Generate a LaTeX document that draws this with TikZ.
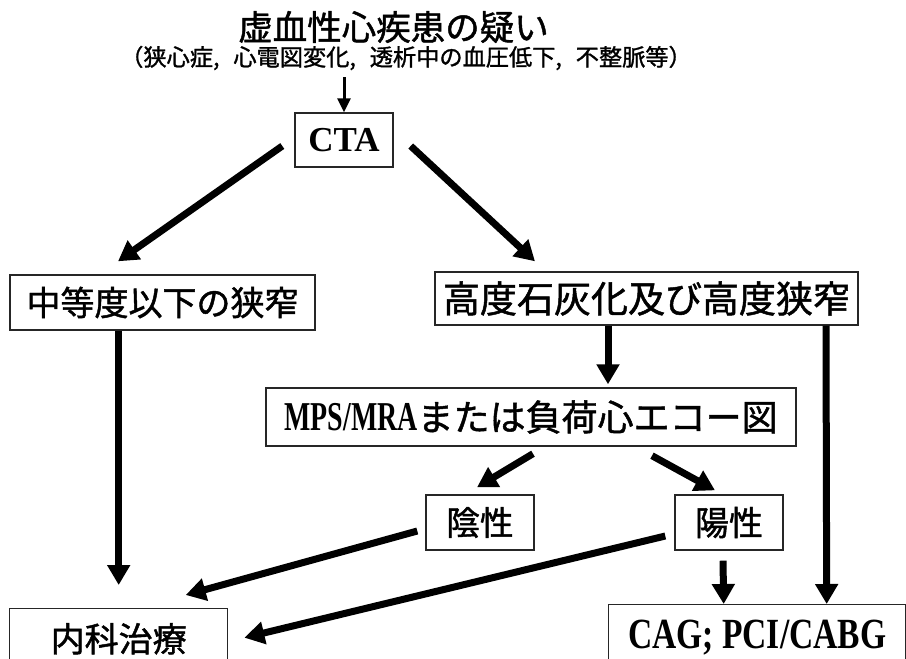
\documentclass[tikz,border=0pt]{standalone}
\usepackage{fontspec}
\usepackage{graphicx}
\setmainfont{Liberation Serif}
\newfontfamily\jp{Noto Sans CJK JP}[FakeBold=1.3]
\usetikzlibrary{arrows.meta,calc}
\newcommand\fsz[1]{\fontsize{#1}{#1}\selectfont}
\begin{document}
\begin{tikzpicture}[x=1pt,y=-1pt,
  box/.style={draw=black!85,line width=1.4pt,inner sep=0pt,rectangle},
  big/.style={line width=7pt,-{Triangle[length=20pt,width=22pt]}},
  smallarrow/.style={line width=3pt,-{Triangle[length=14pt,width=13pt]}}]
\useasboundingbox (0,0) rectangle (906,659);
\clip (0,0) rectangle (906,659);
\node[inner sep=0pt] (title) at (393.5,27) {\jp\fsz{34.5}虚血性心疾患の疑い};
\node[inner sep=0pt] (sub) at (406,58) {\jp\fsz{23.2}（狭心症,\hspace{0.6em}心電図変化,\hspace{0.6em}透析中の血圧低下,\hspace{0.6em}不整脈等）};
\node[box,minimum width=98pt,minimum height=54pt] (cta) at (344,140) {\fsz{35}\bfseries CTA};
\node[box,minimum width=305pt,minimum height=55pt] (mod) at (162.5,302.5) {\jp\fsz{34}中等度以下の狭窄};
\node[box,minimum width=423pt,minimum height=53pt] (high) at (646.5,298.5) {\jp\fsz{37}高度石灰化及び高度狭窄\hspace{12pt}};
\node[box,minimum width=530pt,minimum height=58pt] (mps) at (531,417) {\scalebox{0.68}[1]{\fsz{41}\bfseries MPS/MRA}\jp\fsz{36}または負荷心エコー図};
\node[box,minimum width=108pt,minimum height=55pt] (neg) at (480,522.5) {\jp\fsz{33.5}陰性};
\node[box,minimum width=108pt,minimum height=55pt] (pos) at (729,522.5) {\jp\fsz{34}陽性};
\node[box,anchor=north west,minimum width=218pt,text height=43pt,text depth=30pt] (naika) at (9,608) {\jp\fsz{34}内科治療};
\node[box,anchor=north west,minimum width=297pt,text height=44pt,text depth=30pt] (cag) at (608,604) {\scalebox{0.78}[1]{\fsz{43}\bfseries CAG; PCI/CABG}};
% connectors
\draw[smallarrow] ([yshift=35pt]cta.north) -- (cta.north);
\draw[big] ($(cta.west)+(-12,6)$) -- ($(mod.north)+(-44.5,-13)$);
\draw[big] ($(cta.east)+(17,6)$) -- ($(high.north)+(-111.5,-10)$);
\draw[big] (naika.north |- mod.south) -- ($(naika.north)+(0,-23)$);
\draw[big] ($(high.south)+(-38.5,0)$) -- ($(mps.north)+(77,-3)$);
\draw[big] ($(high.south)+(179.5,0)$) -- ($(cag.north)+(69.5,0)$);
\draw[big] ($(mps.south)+(2,7)$) -- ($(neg.north)+(-3,-7)$);
\draw[big] ($(mps.south)+(121,9)$) -- ($(pos.north)+(-14,-4)$);
\draw[big] ($(neg.west)+(-8,8.5)$) -- ($(naika.north)+(67,-13)$);
\draw[big] ($(pos.west)+(-9,13.5)$) -- ($(naika.east)+(16,-7.5)$);
\draw[big] ($(pos.south)+(-6,10)$) -- ($(cag.north)+(-33.5,0)$);
\end{tikzpicture}
\end{document}
